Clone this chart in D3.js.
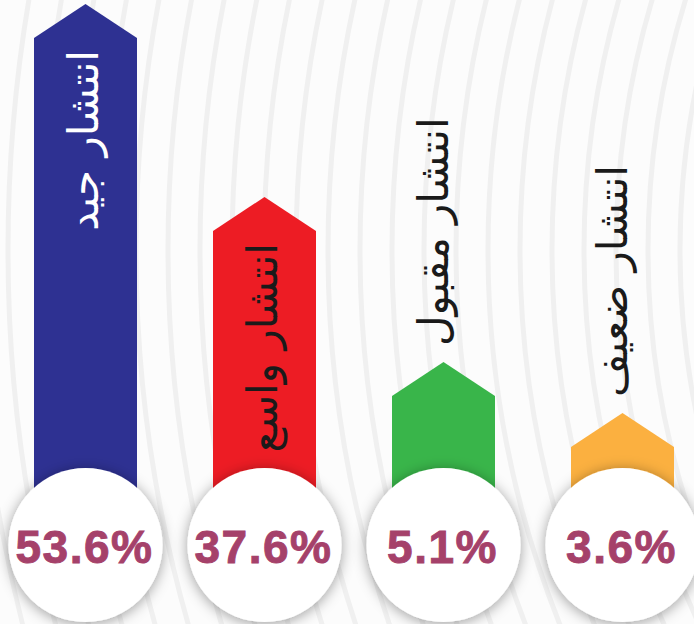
<!DOCTYPE html>
<html><head><meta charset="utf-8">
<script src="https://cdn.jsdelivr.net/npm/d3@7"></script>
<style>html,body{margin:0;padding:0;background:#fcfcfc;}svg{display:block;}</style>
</head><body>
<svg id="chart" width="694" height="624"></svg>
<script>
const categories = ["انتشار جيد", "انتشار واسع", "انتشار مقبول", "انتشار ضعيف"];
const values = [53.6, 37.6, 5.1, 3.6];
const valueLabels = ["53.6%", "37.6%", "5.1%", "3.6%"];
const colors = ["#2e3192", "#ed1c24", "#39b54a", "#fbb040"];
const labelColors = ["#ffffff", "#1a1a1a", "#1a1a1a", "#1a1a1a"];

const W = 694, H = 624;
const svg = d3.select("#chart");
const defs = svg.append("defs");

const f = defs.append("filter").attr("id", "shadow").attr("x", "-30%").attr("y", "-30%").attr("width", "160%").attr("height", "160%");
f.append("feDropShadow").attr("dx", 0).attr("dy", 2).attr("stdDeviation", 7).attr("flood-color", "#000").attr("flood-opacity", 0.38);

// background rings
svg.append("rect").attr("width", W).attr("height", H).attr("fill", "#fcfcfc");
const ringCx = 1500, ringCy = 250;
svg.append("g").selectAll("circle").data(d3.range(820, 1560, 32)).join("circle")
  .attr("cx", ringCx).attr("cy", ringCy).attr("r", d => d)
  .attr("fill", "none").attr("stroke", "#f0f0f0").attr("stroke-width", 5);

// scales
const x = d3.scalePoint().domain(categories).range([85.5, 622.5]);
// infographic bars are not proportional: piecewise scale through the category values
const y = d3.scaleLinear().domain([3.6, 5.1, 37.6, 53.6]).range([413, 362, 197, 4]);
const barW = 103, arrowH = 34, baseY = 545, circleR = 77;

const data = categories.map((c, i) => ({c, v: values[i], label: valueLabels[i], color: colors[i], lc: labelColors[i]}));

// bars (arrows)
svg.append("g").selectAll("path").data(data).join("path")
  .attr("fill", d => d.color)
  .attr("d", d => {
    const cx = x(d.c), t = y(d.v), l = cx - barW / 2, r = cx + barW / 2;
    return `M${l},${baseY}L${l},${t + arrowH}L${cx},${t}L${r},${t + arrowH}L${r},${baseY}Z`;
  });

// category labels (rotated)
const lab = svg.append("g").selectAll("text").data(data).join("text")
  .text(d => d.c)
  .attr("font-family", "'DejaVu Sans', sans-serif")
  .attr("font-size", 42)
  .attr("fill", d => d.lc)
  .attr("text-anchor", "middle");
lab.each(function (d) {
  const L = this.getComputedTextLength();
  const cx = x(d.c), t = y(d.v);
  const inside = (baseY - circleR - (t + arrowH)) > L + 8;
  let cyc, bx;
  if (inside) { cyc = t + arrowH + 12 + L / 2; bx = cx + 12; }
  else { cyc = t - 16 - L / 2; bx = cx + 4; }
  d3.select(this).attr("transform", `translate(${bx},${cyc}) rotate(-90)`);
});

// circles
svg.append("g").selectAll("circle").data(data).join("circle")
  .attr("cx", d => x(d.c)).attr("cy", baseY).attr("r", circleR)
  .attr("fill", "#ffffff").attr("filter", "url(#shadow)");

svg.append("g").selectAll("text").data(data).join("text")
  .attr("x", d => x(d.c) - 1).attr("y", baseY + 18)
  .attr("text-anchor", "middle")
  .attr("font-family", "'Liberation Sans', Arial, sans-serif")
  .attr("font-weight", "bold").attr("font-size", 46).attr("letter-spacing", 1.5)
  .attr("fill", "#a5416a").attr("stroke", "#a5416a").attr("stroke-width", 0.9)
  .text(d => d.label);
</script>
</body></html>
